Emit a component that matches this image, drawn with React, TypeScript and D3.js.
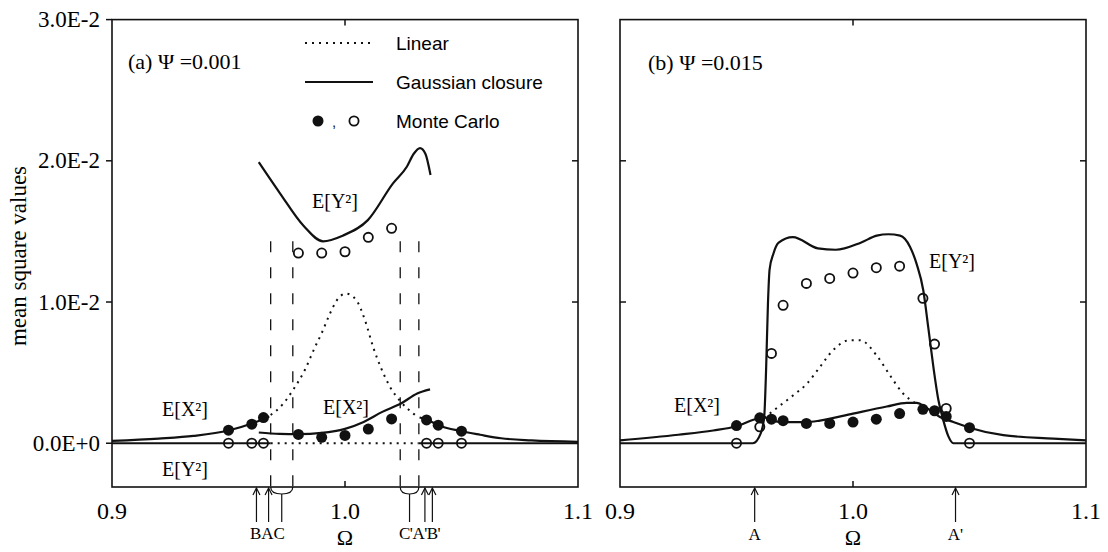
import * as d3 from "d3";
import { useEffect, useRef } from "react";

// ---- panel (a)  Psi = 0.001 ----
const aGcYUpperOmega = [0.963, 0.9721, 0.9822, 0.9906, 0.999, 1.0098, 1.0206, 1.0266, 1.0295, 1.0322, 1.0345, 1.0367];
const aGcYUpper = [0.0199, 0.0177, 0.0154, 0.0143, 0.0147, 0.0158, 0.0184, 0.0196, 0.0205, 0.0209, 0.0205, 0.019];

const aGcXLeftOmega = [0.9, 0.92, 0.935, 0.95, 0.96, 0.9675];
const aGcXLeft = [0.00016, 0.00033, 0.00052, 0.0009, 0.0014, 0.0019];
const aGcXMidOmega = [0.963, 0.972, 0.98, 0.99, 1.0, 1.008, 1.016, 1.024, 1.031, 1.0365];
const aGcXMid = [0.00076, 0.00066, 0.00064, 0.00073, 0.00102, 0.00151, 0.00222, 0.00281, 0.00352, 0.00381];
const aGcXRightOmega = [1.032, 1.035, 1.04, 1.05, 1.058, 1.067, 1.08, 1.1];
const aGcXRight = [0.00182, 0.00168, 0.00128, 0.00085, 0.0006, 0.00035, 0.0002, 0.0001];

const aGcYZeroLeftOmega = [0.9, 0.9681];
const aGcYZeroRightOmega = [1.0316, 1.1];

const aLinXOmega = [0.9681, 0.9735, 0.9778, 0.9828, 0.9871, 0.99, 0.9936, 0.9964, 1.0005, 1.005, 1.0086, 1.0121, 1.0158, 1.0193, 1.0236, 1.0293, 1.0316];
const aLinX = [0.002, 0.0028, 0.0038, 0.0052, 0.0068, 0.0078, 0.0092, 0.0101, 0.0106, 0.0101, 0.0087, 0.0068, 0.0052, 0.004, 0.003, 0.0021, 0.0018];
const aLinYOmega = [0.9681, 1.0316];

const aMcXOmega = [0.95, 0.96, 0.965, 0.98, 0.99, 1.0, 1.01, 1.02, 1.035, 1.04, 1.05];
const aMcX = [0.00092, 0.00135, 0.00182, 0.00062, 0.00042, 0.00055, 0.001, 0.00172, 0.00165, 0.00128, 0.00085];
const aMcYOmega = [0.95, 0.96, 0.965, 0.98, 0.99, 1.0, 1.01, 1.02, 1.035, 1.04, 1.05];
const aMcY = [0, 0, 0, 0.01347, 0.01347, 0.01356, 0.01458, 0.01522, 0, 0, 0];

const aDashedOmega = [0.9681, 0.9776, 1.0237, 1.0317];
const aDashedTop = 0.0143;

// ---- panel (b)  Psi = 0.015 ----
const bGcYOmega = [0.9, 0.957, 0.9604, 0.9619, 0.9627, 0.9635, 0.9642, 0.9658, 0.9681, 0.9742, 0.9849, 0.9926, 1.0033, 1.0102, 1.0152, 1.0202, 1.0245, 1.0273, 1.0302, 1.0323, 1.0345, 1.0366, 1.0388, 1.0409, 1.0431, 1.1];
const bGcY = [0, 0, 0.0007, 0.0019, 0.0052, 0.0099, 0.0123, 0.0134, 0.0142, 0.0146, 0.0138, 0.0137, 0.0142, 0.0147, 0.0148, 0.0147, 0.0139, 0.0127, 0.0108, 0.0082, 0.0054, 0.0031, 0.0016, 0.0005, 0, 0];

const bGcXOmega = [0.9, 0.925, 0.94, 0.95, 0.958, 0.9618, 0.965, 0.97, 0.98, 0.9858, 1.0, 1.0145, 1.0231, 1.0273, 1.0316, 1.0373, 1.0431, 1.05, 1.0645, 1.086, 1.1];
const bGcX = [0.0002, 0.0006, 0.0009, 0.0012, 0.0017, 0.00185, 0.0016, 0.0015, 0.0015, 0.0016, 0.0021, 0.0026, 0.00286, 0.00286, 0.0025, 0.00186, 0.0015, 0.0011, 0.00057, 0.00033, 0.0002];

const bLinXOmega = [0.9619, 0.9681, 0.9744, 0.9801, 0.9858, 0.9915, 0.9987, 1.003, 1.0102, 1.0159, 1.0216, 1.0273];
const bLinX = [0.0018, 0.0026, 0.0034, 0.0042, 0.0054, 0.0066, 0.0073, 0.0073, 0.0062, 0.0048, 0.0035, 0.0028];

const bMcOmega = [0.95, 0.96, 0.965, 0.97, 0.98, 0.99, 1.0, 1.01, 1.02, 1.03, 1.035, 1.04, 1.05];
const bMcX = [0.00125, 0.0018, 0.0017, 0.0016, 0.0014, 0.0014, 0.0015, 0.0017, 0.0021, 0.0024, 0.0023, 0.0019, 0.0011];
const bMcY = [0, 0.00116, 0.00636, 0.00977, 0.01132, 0.01167, 0.01205, 0.01243, 0.01254, 0.01026, 0.00702, 0.00246, 0];

// ---- axes ----
const yTicks = [0, 0.01, 0.02, 0.03];
const yTickLabels = ["0.0E+0", "1.0E-2", "2.0E-2", "3.0E-2"];
const xTicks = [0.9, 1.0, 1.1];
const xTickLabels = ["0.9", "1.0", "1.1"];

const SERIF = "'Liberation Serif', 'Times New Roman', serif";
const SANS = "'Liberation Sans', Arial, sans-serif";
const INK = "#111";

const zip = (xs: number[], ys: number[]) => xs.map((x, i) => [x, ys[i]] as [number, number]);

const App = () => {
  const ref = useRef<SVGSVGElement>(null);

  useEffect(() => {
    const svg = d3.select(ref.current);
    svg.selectAll("*").remove();

    const top = 19.6;
    const bottom = 487;
    const y = d3.scaleLinear().domain([-0.0031, 0.03]).range([bottom, top]);

    const drawFrame = (g, x) => {
      const [l, r] = x.range();
      g.append("rect")
        .attr("x", l).attr("y", top)
        .attr("width", r - l).attr("height", bottom - top)
        .attr("fill", "none").attr("stroke", INK).attr("stroke-width", 1.6);
      // inward ticks at 1.0 top & bottom
      g.append("line").attr("x1", x(1.0)).attr("x2", x(1.0)).attr("y1", top).attr("y2", top + 6).attr("stroke", INK).attr("stroke-width", 1.5);
      g.append("line").attr("x1", x(1.0)).attr("x2", x(1.0)).attr("y1", bottom).attr("y2", bottom - 6).attr("stroke", INK).attr("stroke-width", 1.5);
      // right side inward ticks
      yTicks.slice(1, 3).forEach((t) => {
        g.append("line").attr("x1", r).attr("x2", r - 6).attr("y1", y(t)).attr("y2", y(t)).attr("stroke", INK).attr("stroke-width", 1.5);
      });
      xTicks.forEach((t, i) => {
        g.append("text")
          .attr("x", x(t)).attr("y", 519)
          .attr("text-anchor", "middle")
          .attr("font-family", SERIF).attr("font-size", 24)
          .text(xTickLabels[i]);
      });
      g.append("text")
        .attr("x", x(1.0)).attr("y", 545)
        .attr("text-anchor", "middle")
        .attr("font-family", SERIF).attr("font-size", 22)
        .text("Ω");
    };

    const line = (x) =>
      d3.line<[number, number]>()
        .x((d) => x(d[0]))
        .y((d) => y(d[1]))
        .curve(d3.curveMonotoneX);

    const solid = (g, x, pts) =>
      g.append("path").attr("d", line(x)(pts)).attr("fill", "none")
        .attr("stroke", INK).attr("stroke-width", 2.2);
    const dotted = (g, x, pts) =>
      g.append("path").attr("d", line(x)(pts)).attr("fill", "none")
        .attr("stroke", INK).attr("stroke-width", 2).attr("stroke-dasharray", "2,5");

    const filled = (g, x, pts) =>
      g.selectAll(null).data(pts).enter().append("circle")
        .attr("cx", (d) => x(d[0])).attr("cy", (d) => y(d[1]))
        .attr("r", 5.5).attr("fill", INK);
    const open = (g, x, pts) =>
      g.selectAll(null).data(pts).enter().append("circle")
        .attr("cx", (d) => x(d[0])).attr("cy", (d) => y(d[1]))
        .attr("r", 4.6).attr("fill", "none").attr("stroke", INK).attr("stroke-width", 1.8);

    const label = (g, cx, cy, txt) =>
      g.append("text").attr("x", cx).attr("y", cy + 7)
        .attr("text-anchor", "middle")
        .attr("font-family", SERIF).attr("font-size", 20)
        .text(txt);

    const arrow = (g, xp, label0) => {
      g.append("line").attr("x1", xp).attr("x2", xp).attr("y1", bottom + 1).attr("y2", 522)
        .attr("stroke", INK).attr("stroke-width", 1.2);
      g.append("path").attr("d", `M${xp - 3.5},${bottom + 8} L${xp},${bottom + 1} L${xp + 3.5},${bottom + 8}`)
        .attr("fill", "none").attr("stroke", INK).attr("stroke-width", 1.2);
      if (label0) {
        g.append("text").attr("x", xp).attr("y", 540).attr("text-anchor", "middle")
          .attr("font-family", SERIF).attr("font-size", 17).text(label0);
      }
    };
    const brace = (g, x1, x2) => {
      const m = (x1 + x2) / 2;
      g.append("path")
        .attr("d", `M${x1},${bottom} Q${x1},${bottom + 7} ${m},${bottom + 7} Q${x2},${bottom + 7} ${x2},${bottom}`)
        .attr("fill", "none").attr("stroke", INK).attr("stroke-width", 1.2);
      g.append("line").attr("x1", m).attr("x2", m).attr("y1", bottom + 7).attr("y2", 522)
        .attr("stroke", INK).attr("stroke-width", 1.2);
    };

    // ---------- panel (a) ----------
    const xa = d3.scaleLinear().domain([0.9, 1.1]).range([112, 578]);
    const ga = svg.append("g");

    // left axis outward ticks + labels
    yTicks.forEach((t, i) => {
      ga.append("line").attr("x1", 106).attr("x2", 112).attr("y1", y(t)).attr("y2", y(t)).attr("stroke", INK).attr("stroke-width", 1.5);
      ga.append("text").attr("x", 100).attr("y", y(t)).attr("dy", "0.33em")
        .attr("text-anchor", "end").attr("font-family", SERIF).attr("font-size", 23)
        .text(yTickLabels[i]);
    });
    ga.append("text")
      .attr("transform", `translate(26,256) rotate(-90)`)
      .attr("text-anchor", "middle")
      .attr("font-family", SERIF).attr("font-size", 23)
      .text("mean square values");

    // dashed bifurcation lines
    aDashedOmega.forEach((o) => {
      ga.append("line").attr("x1", xa(o)).attr("x2", xa(o)).attr("y1", y(aDashedTop)).attr("y2", bottom)
        .attr("stroke", INK).attr("stroke-width", 1.3).attr("stroke-dasharray", "11,15");
    });

    dotted(ga, xa, zip(aLinXOmega, aLinX));
    dotted(ga, xa, zip(aLinYOmega, [0, 0]));
    solid(ga, xa, zip(aGcYUpperOmega, aGcYUpper));
    solid(ga, xa, zip(aGcXLeftOmega, aGcXLeft));
    solid(ga, xa, zip(aGcXMidOmega, aGcXMid));
    solid(ga, xa, zip(aGcXRightOmega, aGcXRight));
    solid(ga, xa, zip(aGcYZeroLeftOmega, [0, 0]));
    solid(ga, xa, zip(aGcYZeroRightOmega, [0, 0]));
    filled(ga, xa, zip(aMcXOmega, aMcX));
    open(ga, xa, zip(aMcYOmega, aMcY));

    drawFrame(ga, xa);

    label(ga, 335, 201, "E[Y²]");
    label(ga, 185, 409, "E[X²]");
    label(ga, 346, 407, "E[X²]");
    label(ga, 185, 469, "E[Y²]");

    ga.append("text").attr("x", 128).attr("y", 69)
      .attr("font-family", SERIF).attr("font-size", 22)
      .text("(a)  Ψ =0.001");

    // legend
    ga.append("line").attr("x1", 305).attr("x2", 373).attr("y1", 43).attr("y2", 43)
      .attr("stroke", INK).attr("stroke-width", 2).attr("stroke-dasharray", "2,5");
    ga.append("line").attr("x1", 305).attr("x2", 373).attr("y1", 82).attr("y2", 82)
      .attr("stroke", INK).attr("stroke-width", 2.2);
    ga.append("circle").attr("cx", 318).attr("cy", 121).attr("r", 5.5).attr("fill", INK);
    ga.append("text").attr("x", 332).attr("y", 127).attr("font-family", SANS).attr("font-size", 15).attr("fill", INK).text(",");
    ga.append("circle").attr("cx", 354).attr("cy", 121).attr("r", 4.6).attr("fill", "none").attr("stroke", INK).attr("stroke-width", 1.8);
    [["Linear", 50], ["Gaussian closure", 89], ["Monte Carlo", 128]].forEach(([t, yy]) => {
      ga.append("text").attr("x", 396).attr("y", yy as number)
        .attr("font-family", SANS).attr("font-size", 19).text(t as string);
    });

    // arrows below (a)
    arrow(ga, xa(0.962), null);
    arrow(ga, xa(0.9672), null);
    brace(ga, xa(aDashedOmega[0]), xa(aDashedOmega[1]));
    brace(ga, xa(aDashedOmega[2]), xa(aDashedOmega[3]));
    arrow(ga, xa(1.0343), null);
    arrow(ga, xa(1.0375), null);
    ga.append("text").attr("x", 250).attr("y", 539).attr("font-family", SERIF).attr("font-size", 17).text("BAC");
    ga.append("text").attr("x", 399).attr("y", 539).attr("font-family", SERIF).attr("font-size", 17)
      .attr("letter-spacing", -0.5).text("C'A'B'");

    // ---------- panel (b) ----------
    const xb = d3.scaleLinear().domain([0.9, 1.1]).range([620, 1086]);
    const gb = svg.append("g");

    yTicks.slice(1, 3).forEach((t) => {
      gb.append("line").attr("x1", 620).attr("x2", 626).attr("y1", y(t)).attr("y2", y(t)).attr("stroke", INK).attr("stroke-width", 1.5);
    });

    dotted(gb, xb, zip(bLinXOmega, bLinX));
    solid(gb, xb, zip(bGcYOmega, bGcY));
    solid(gb, xb, zip(bGcXOmega, bGcX));
    filled(gb, xb, zip(bMcOmega, bMcX));
    open(gb, xb, zip(bMcOmega, bMcY));

    drawFrame(gb, xb);

    label(gb, 952, 261, "E[Y²]");
    label(gb, 697, 405, "E[X²]");

    gb.append("text").attr("x", 648).attr("y", 70)
      .attr("font-family", SERIF).attr("font-size", 22)
      .text("(b)  Ψ =0.015");

    arrow(gb, xb(0.9578), "A");
    arrow(gb, xb(1.044), "A'");
  }, []);

  return (
    <svg
      ref={ref}
      width={1108}
      height={552}
      style={{ position: "absolute", left: 0, top: 0, background: "#fff" }}
    />
  );
};

export default App;
